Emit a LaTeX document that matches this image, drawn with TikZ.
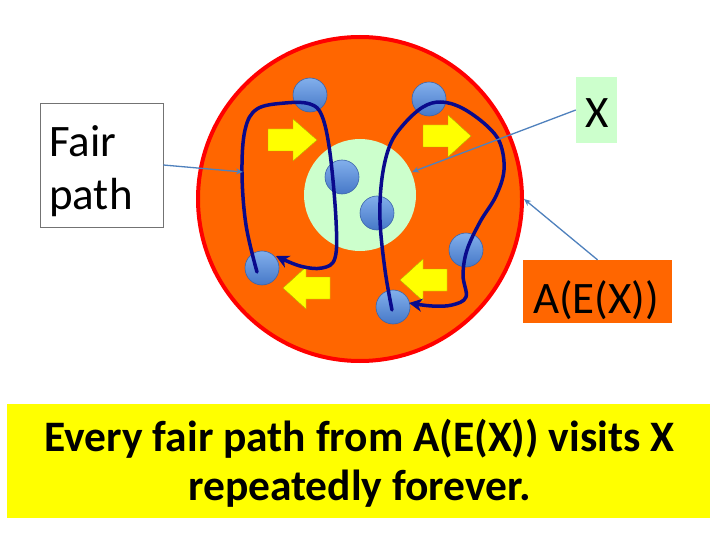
\documentclass[tikz,border=0pt]{standalone}
\usepackage{fontspec}
\setmainfont{Carlito}
\usetikzlibrary{arrows.meta,shadows}
\definecolor{orng}{RGB}{255,102,0}
\definecolor{rd}{RGB}{255,0,0}
\definecolor{lgreen}{RGB}{204,255,204}
\definecolor{navyp}{RGB}{10,10,140}
\definecolor{dotlight}{RGB}{130,175,235}
\definecolor{dotdark}{RGB}{70,120,200}
\definecolor{dotedge}{RGB}{60,100,170}
\definecolor{conn}{RGB}{79,129,189}
\definecolor{yel}{RGB}{255,255,0}
\begin{document}
\begin{tikzpicture}[x=1pt,y=-1pt,
  dot/.style={circle,minimum size=34pt,inner sep=0pt,draw=dotedge,line width=0.6pt,
    top color=dotlight,bottom color=dotdark},
  fairpath/.style={draw=navyp,line width=3.5pt,line cap=round,line join=round,
    -{Stealth[length=13pt,width=13pt,inset=4pt]}},
  connector/.style={draw=conn,line width=1.3pt,-{Stealth[length=7pt,width=6pt,open]}},
  yarrow/.style={fill=yel,draw=yel!70!black,line width=0.4pt},
  lbl/.style={font=\fontsize{45}{53}\selectfont,inner sep=0pt}]
\useasboundingbox (0,0) rectangle (720,540);
\fill[white] (0,0) rectangle (720,540);

% big circle A(E(X))
\node[circle,minimum size=324pt,inner sep=0pt,fill=orng,draw=rd,line width=4pt] (big) at (360,199) {};
% inner circle X
\node[circle,minimum size=112pt,inner sep=0pt,fill=lgreen] (green) at (360,195) {};

% yellow block arrows
\path[yarrow] (268,129) -- (293,129) -- (293,119) -- (317,140) -- (293,161) -- (293,151) -- (268,151) -- cycle;
\path[yarrow] (423,125) -- (448,125) -- (448,115) -- (471,136) -- (448,157) -- (448,147) -- (423,147) -- cycle;
\path[yarrow] (447,269) -- (423,269) -- (423,259) -- (400,280) -- (423,301) -- (423,291) -- (447,291) -- cycle;
\path[yarrow] (330,277) -- (306,277) -- (306,267) -- (283,288) -- (306,309) -- (306,299) -- (330,299) -- cycle;

% dots
\node[dot] (d1) at (310,95) {};
\node[dot] (d2) at (429,99) {};
\node[dot] (d3) at (342,177) {};
\node[dot] (d4) at (377,213) {};
\node[dot] (d5) at (466,250) {};
\node[dot] (d6) at (262,268) {};
\node[dot] (d7) at (393,307) {};

% fair paths
\draw[fairpath] plot[smooth,tension=0.6] coordinates {(257,272) (246,225) (242,173) (245,130) (257,109) (285,103) (310,104) (322,116) (330,153) (336,220) (335,258) (322,268) (300,266) (276,256)};
\draw[fairpath] plot[smooth,tension=0.6] coordinates {(392,310) (385,270) (380,220) (382,178) (390,145) (404,124) (423,107) (441,102) (462,108) (486,125) (500,143) (504,170) (496,196) (480,222) (467,250) (463,275) (466,297) (452,305) (432,306) (409,303)};

% labels
\node[draw=black!55,line width=0.8pt,minimum width=123pt,minimum height=124pt,inner sep=0pt] (fairbox) at (101.5,165) {};
\node[lbl,anchor=base west] (fairt) at (49,157) {Fair};
\node[lbl,anchor=base west] (patht) at (49,210) {path};

\node[fill=lgreen,minimum width=41pt,minimum height=66pt,inner sep=0pt] (xbox) at (596.5,110) {};
\node[lbl,anchor=base] (xt) at (597,128) {X};

\node[fill=orng,minimum width=149pt,minimum height=63pt,inner sep=0pt] (abox) at (597.5,291.5) {};
\node[lbl,anchor=base] (at) at (596,313) {A(E(X))};

\coordinate (fp) at (243,172);
\coordinate (xp) at (412,172);
\draw[connector] (fairbox.east) -- (fp);
\draw[connector] (xbox.west) -- (xp);
\draw[connector] (abox.north) -- (big.east);

% bottom statement
\node[fill=yel,minimum width=703pt,minimum height=114pt,inner sep=0pt] (stmt) at (358.5,461) {};
\node[font=\bfseries\fontsize{43.5}{49}\selectfont,align=center,anchor=base,inner sep=0pt] (st) at (359.5,500)
  {Every fair path from A(E(X)) visits X\\repeatedly forever.};
\end{tikzpicture}
\end{document}
